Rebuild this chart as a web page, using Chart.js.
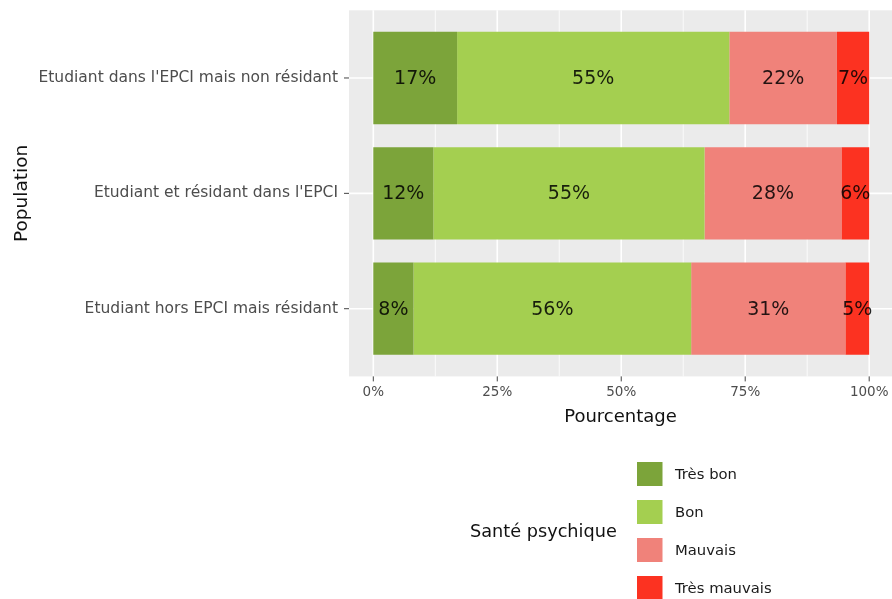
<!DOCTYPE html>
<html>
<head>
<meta charset="utf-8">
<script src="https://cdn.jsdelivr.net/npm/chart.js@4.4.1/dist/chart.umd.min.js"></script>
<style>
  body { margin: 0; background: #fff; }
  #wrap { width: 892px; height: 599px; position: relative; }
</style>
</head>
<body>
<div id="wrap"><canvas id="santeChart"></canvas></div>
<script>
const categories = [
  "Etudiant dans l'EPCI mais non résidant",
  "Etudiant et résidant dans l'EPCI",
  "Etudiant hors EPCI mais résidant"
];
const tresBon = [16.9, 12.1, 8.1];
const bon = [54.9, 54.7, 56.0];
const mauvais = [21.7, 27.6, 31.1];
const tresMauvais = [6.5, 5.6, 4.8];
const seriesNames = ['Très bon', 'Bon', 'Mauvais', 'Très mauvais'];
const seriesColors = ['#7CA43A', '#A4CF50', '#F0827A', '#FC3221'];
const xTickValues = [0, 12.5, 25, 37.5, 50, 62.5, 75, 87.5, 100];
const legendTitle = 'Santé psychique';

const FONT = "'DejaVu Sans', sans-serif";

// ggplot-like grey panel with white grid, drawn under the bars
const panelPlugin = {
  id: 'panel',
  beforeDatasetsDraw(chart) {
    const { ctx, chartArea, scales } = chart;
    const top = chartArea.top - 10;
    const bottom = chartArea.bottom + 10;
    ctx.save();
    ctx.fillStyle = '#EBEBEB';
    ctx.fillRect(chartArea.left, top, chartArea.right - chartArea.left, bottom - top);
    ctx.strokeStyle = '#FFFFFF';
    xTickValues.forEach(v => {
      const x = scales.x.getPixelForValue(v);
      ctx.lineWidth = v % 25 === 0 ? 1.6 : 0.8;
      ctx.beginPath();
      ctx.moveTo(x, top);
      ctx.lineTo(x, bottom);
      ctx.stroke();
    });
    ctx.lineWidth = 1.6;
    categories.forEach((c, i) => {
      const y = scales.y.getPixelForValue(i);
      ctx.beginPath();
      ctx.moveTo(chartArea.left, y);
      ctx.lineTo(chartArea.right, y);
      ctx.stroke();
    });
    // tick marks
    ctx.strokeStyle = '#444';
    ctx.lineWidth = 1;
    categories.forEach((c, i) => {
      const y = scales.y.getPixelForValue(i);
      ctx.beginPath();
      ctx.moveTo(chartArea.left - 5, y);
      ctx.lineTo(chartArea.left, y);
      ctx.stroke();
    });
    xTickValues.filter(v => v % 25 === 0).forEach(v => {
      const x = scales.x.getPixelForValue(v);
      ctx.beginPath();
      ctx.moveTo(x, bottom);
      ctx.lineTo(x, bottom + 5);
      ctx.stroke();
    });
    ctx.restore();
  }
};

// percentage labels in the middle of each segment
const valueLabels = {
  id: 'valueLabels',
  afterDatasetsDraw(chart) {
    const { ctx } = chart;
    ctx.save();
    ctx.font = '19px ' + FONT;
    ctx.fillStyle = 'rgba(0,0,0,0.85)';
    ctx.textAlign = 'center';
    ctx.textBaseline = 'middle';
    chart.data.datasets.forEach((ds, di) => {
      chart.getDatasetMeta(di).data.forEach((bar, i) => {
        const cx = (bar.x + bar.base) / 2;
        ctx.fillText(Math.round(ds.data[i]) + '%', cx, bar.y + 1);
      });
    });
    ctx.restore();
  }
};

// vertical legend with title on the left, below the plot
const sideLegend = {
  id: 'sideLegend',
  afterDraw(chart) {
    const { ctx } = chart;
    ctx.save();
    ctx.fillStyle = '#111';
    ctx.font = '17.7px ' + FONT;
    ctx.textAlign = 'left';
    ctx.textBaseline = 'alphabetic';
    ctx.fillText(legendTitle, 470, 537);
    ctx.font = '14.8px ' + FONT;
    ctx.textBaseline = 'middle';
    chart.data.datasets.forEach((ds, i) => {
      const top = 462 + i * 38;
      ctx.fillStyle = ds.backgroundColor;
      ctx.fillRect(637, top, 25.5, 24);
      ctx.fillStyle = '#1a1a1a';
      ctx.fillText(ds.label, 675, top + 13);
    });
    ctx.restore();
  }
};

const seriesData = [tresBon, bon, mauvais, tresMauvais];

new Chart(document.getElementById('santeChart'), {
  type: 'bar',
  data: {
    labels: categories,
    datasets: seriesNames.map((name, i) => ({
      label: name,
      data: seriesData[i],
      backgroundColor: seriesColors[i],
      borderWidth: 0,
      barPercentage: 0.8,
      categoryPercentage: 1
    }))
  },
  options: {
    indexAxis: 'y',
    responsive: true,
    maintainAspectRatio: false,
    animation: false,
    layout: { padding: { top: 20.3, left: 0, right: 0, bottom: 0 } },
    plugins: {
      legend: { display: false },
      tooltip: { enabled: false }
    },
    scales: {
      x: {
        type: 'linear',
        stacked: true,
        min: -4.9,
        max: 104.6,
        grid: { display: false, drawTicks: false },
        border: { display: false },
        afterBuildTicks: scale => {
          scale.ticks = xTickValues.map(v => ({ value: v }));
        },
        afterFit: scale => {
          scale.height = 232.6;
          scale.paddingLeft = 0;
          scale.paddingRight = 0;
        },
        ticks: {
          autoSkip: false,
          maxRotation: 0,
          padding: 17.5,
          color: '#4D4D4D',
          font: { family: FONT, size: 13.5 },
          callback: v => (v % 25 === 0 ? v + '%' : '')
        },
        title: {
          display: true,
          text: 'Pourcentage',
          color: '#111',
          font: { family: FONT, size: 18 },
          padding: { top: 0, bottom: 171 }
        }
      },
      y: {
        type: 'category',
        stacked: true,
        grid: { display: false, drawTicks: false },
        border: { display: false },
        afterFit: scale => {
          scale.width = 349;
          scale.paddingTop = 0;
          scale.paddingBottom = 0;
        },
        ticks: {
          padding: 11,
          color: '#4D4D4D',
          font: { family: FONT, size: 15.5 }
        },
        title: {
          display: true,
          text: 'Population',
          color: '#111',
          font: { family: FONT, size: 18.5 },
          padding: { top: 11, bottom: 0 }
        }
      }
    }
  },
  plugins: [panelPlugin, valueLabels, sideLegend]
});
</script>
</body>
</html>
